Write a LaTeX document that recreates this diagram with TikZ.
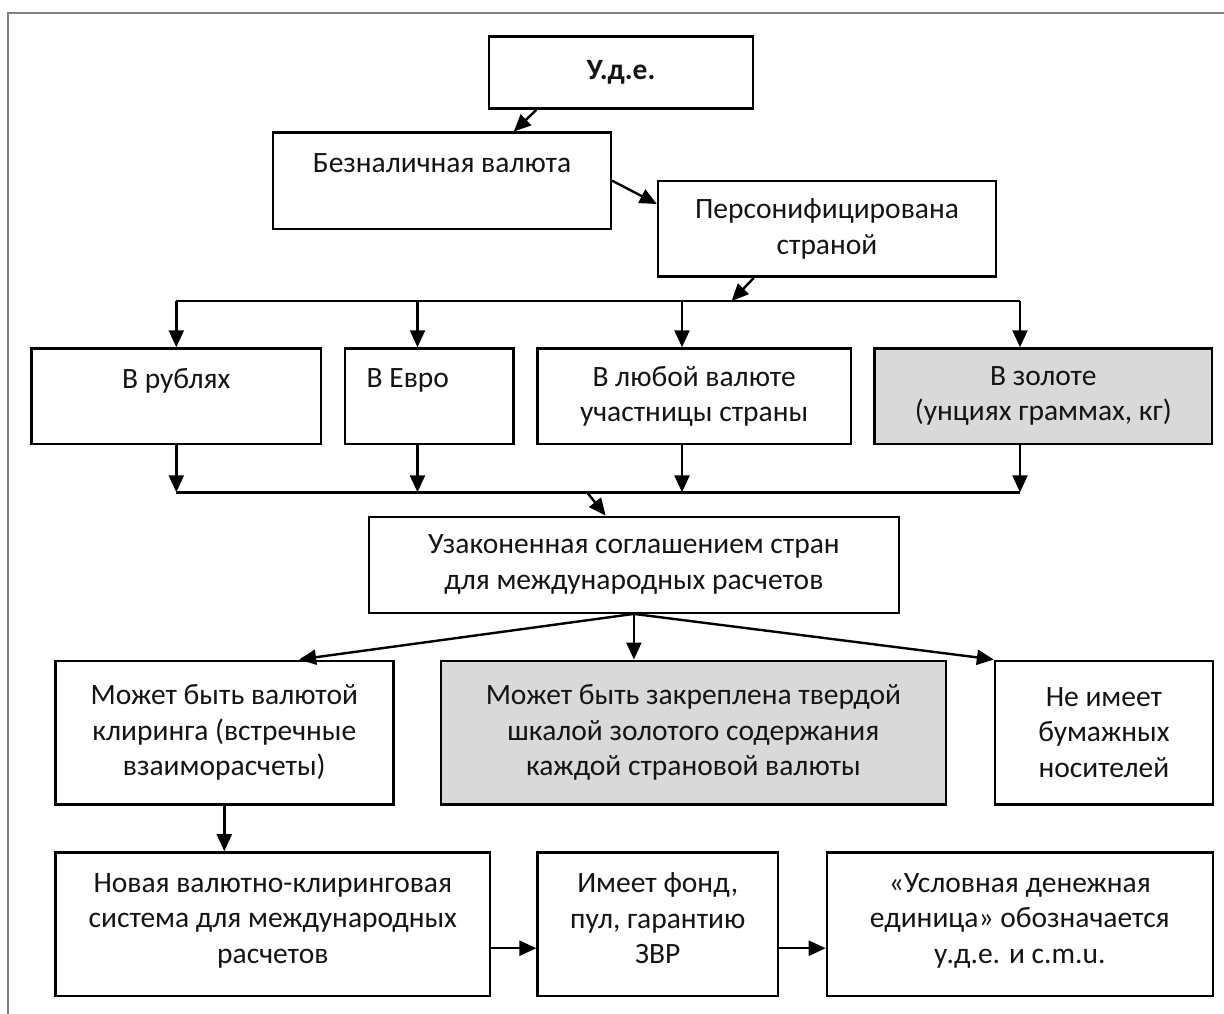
\documentclass[tikz,border=0pt]{standalone}
\usepackage{fontspec}
\setmainfont{Carlito}
\usetikzlibrary{arrows.meta}
\definecolor{boxgray}{RGB}{217,217,217}
\definecolor{framegray}{RGB}{128,128,128}
\definecolor{txt}{RGB}{20,20,20}
\begin{document}
\begin{tikzpicture}[x=1pt,y=-1pt,
  box/.style={draw, line width=2.4pt, inner sep=0pt, align=center, text=txt,
    font=\fontsize{29.5}{35.5}\selectfont},
  arr/.style={line width=2.4pt, -{Triangle[length=17pt,width=15pt]}},
  ln/.style={line width=2.4pt}]
\useasboundingbox (0,0) rectangle (1224,1014);
\draw[framegray, line width=2.2pt] (8,1014) -- (8,13) -- (1224,13);

% nodes
\node[box, minimum width=264pt, minimum height=72pt] (ude) at (621,72.7) {\textbf{У.д.е.}};
\node[box, minimum width=338pt, minimum height=96pt] (bez) at (442,180.7) {Безналичная валюта\\\mbox{}};
\node[box, minimum width=338pt, minimum height=95.7pt] (pers) at (827,228.8) {Персонифицирована\\страной};

\node[box, minimum width=289.4pt, minimum height=95.5pt] (rub) at (176.3,396.2) {В рублях\\\mbox{}};
\node[box, minimum width=168.5pt, minimum height=95.5pt] (evr) at (429.2,396.2) {\makebox[125pt][l]{В Евро}\\\mbox{}};
\node[box, minimum width=313.2pt, minimum height=95.5pt] (lub) at (694.1,396.2) {В любой валюте\\участницы страны};
\node[box, fill=boxgray, minimum width=337.4pt, minimum height=95.5pt] (zol) at (1043.3,396.2) {В золоте\\(унциях граммах, кг)};

\node[box, minimum width=530.2pt, minimum height=96pt] (uz) at (633.9,564.7) {Узаконенная соглашением стран\\для международных расчетов};

\node[box, minimum width=338pt, minimum height=143.6pt] (mv) at (224.3,732.5) {Может быть валютой\\клиринга (встречные\\взаиморасчеты)};
\node[box, fill=boxgray, minimum width=505.3pt, minimum height=143.6pt] (gr) at (693.4,732.5) {Может быть закреплена твердой\\шкалой золотого содержания\\каждой страновой валюты};
\node[box, minimum width=217.7pt, minimum height=143.6pt] (ni) at (1103.9,732.5) {Не имеет\\бумажных\\носителей};

\node[box, minimum width=434.5pt, minimum height=143.7pt] (nov) at (272.8,924.2) {Новая валютно-клиринговая\\система для международных\\расчетов\rule[-12pt]{0pt}{1pt}};
\node[box, minimum width=240.5pt, minimum height=143.7pt] (im) at (657.8,924.2) {Имеет фонд,\\пул, гарантию\\ЗВР\rule[-12pt]{0pt}{1pt}};
\node[box, minimum width=385.9pt, minimum height=143.7pt] (usl) at (1019.8,924.2) {«Условная денежная\\единица» обозначается\\у.д.е. и c.m.u.\rule[-12pt]{0pt}{1pt}};

% bus coordinates
\coordinate (t0) at (731.7,301);
\coordinate (t1) at (176.3,301);
\coordinate (t2) at (417.5,301);
\coordinate (t3) at (682,301);
\coordinate (t4) at (1020,301);
\coordinate (d0) at (587,492.3);
\coordinate (d1) at (176.3,492.3);
\coordinate (d2) at (417.5,492.3);
\coordinate (d3) at (682,492.3);
\coordinate (d4) at (1020,492.3);

% connectors
\draw[arr] ([xshift=48.5pt]ude.south west) -- ([xshift=242pt]bez.north west);
\draw[arr] (bez.east) -- ([yshift=24.8pt]pers.west);
\draw[arr] ([xshift=97pt]pers.south west) -- (t0);

\draw[ln] (t1) -- (t4);
\draw[arr] (t1) -- (t1 |- rub.north);
\draw[arr] (t2) -- (t2 |- evr.north);
\draw[arr] (t3) -- (t3 |- lub.north);
\draw[arr] (t4) -- (t4 |- zol.north);

\draw[ln] (d1) -- (d4);
\draw[arr] (d1 |- rub.south) -- (d1);
\draw[arr] (d2 |- evr.south) -- (d2);
\draw[arr] (d3 |- lub.south) -- (d3);
\draw[arr] (d4 |- zol.south) -- (d4);

\draw[arr] (d0) -- ([xshift=238pt]uz.north west);

\draw[arr] (uz.south) -- ([xshift=245pt]mv.north west);
\draw[arr] (uz.south) -- (uz.south |- gr.north);
\draw[arr] (uz.south) -- (ni.north west);

\draw[arr] (mv.south) -- (mv.south |- nov.north);
\draw[arr] ([yshift=-24pt]nov.east) -- ([yshift=-24pt]im.west);
\draw[arr] ([yshift=-24pt]im.east) -- ([yshift=-24pt]usl.west);
\end{tikzpicture}
\end{document}
